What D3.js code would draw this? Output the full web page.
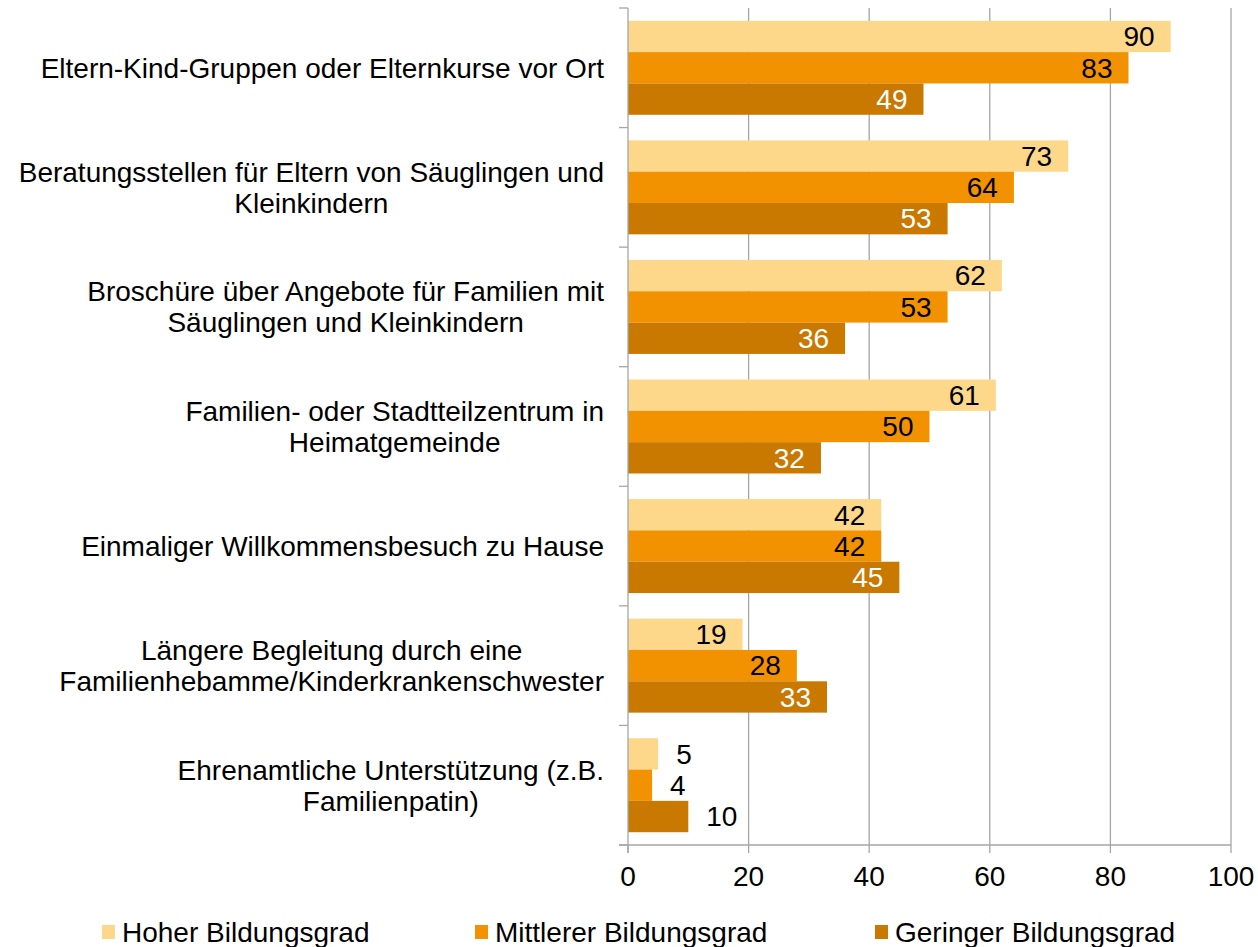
<!DOCTYPE html>
<html>
<head>
<meta charset="utf-8">
<script src="https://cdnjs.cloudflare.com/ajax/libs/d3/7.8.5/d3.min.js"></script>
<style>
  body { margin: 0; background: #fff; }
  svg text { font-family: "Liberation Sans", Arial, sans-serif; }
</style>
</head>
<body>
<div id="chart"></div>
<script>
var categories = [
    ['Eltern-Kind-Gruppen oder Elternkurse vor Ort'],
    ['Beratungsstellen für Eltern von Säuglingen und', 'Kleinkindern'],
    ['Broschüre über Angebote für Familien mit', 'Säuglingen und Kleinkindern'],
    ['Familien- oder Stadtteilzentrum in', 'Heimatgemeinde'],
    ['Einmaliger Willkommensbesuch zu Hause'],
    ['Längere Begleitung durch eine', 'Familienhebamme/Kinderkrankenschwester'],
    ['Ehrenamtliche Unterstützung (z.B.', 'Familienpatin)']
]
var seriesNames = ['Hoher Bildungsgrad', 'Mittlerer Bildungsgrad', 'Geringer Bildungsgrad']
var hoher = [90, 73, 62, 61, 42, 19, 5]
var mittlerer = [83, 64, 53, 50, 42, 28, 4]
var geringer = [49, 53, 36, 32, 45, 33, 10]
var xTicks = [0, 20, 40, 60, 80, 100]

var colors = ['#fdd88b', '#f29200', '#c97800']
var labelColors = ['#000', '#000', '#fff']
var seriesValues = [hoher, mittlerer, geringer]

var width = 1258,
    height = 947,
    fontSize = 28

var svg = d3.select('#chart')
    .append('svg')
    .attr('width', width)
    .attr('height', height)

// scales
var xscale = d3.scaleLinear()
    .domain([0, 100])
    .range([628, 1231])

var yscale = d3.scaleBand()
    .domain(d3.range(categories.length))
    .range([8, 845])
    .paddingInner(0.214)
    .paddingOuter(0.107)

var yinner = d3.scaleBand()
    .domain(d3.range(seriesNames.length))
    .range([0, yscale.bandwidth()])

// gridlines
svg.append('g')
    .selectAll('line')
    .data(xTicks.slice(1))
    .enter()
    .append('line')
    .attr('x1', d => xscale(d))
    .attr('x2', d => xscale(d))
    .attr('y1', 8)
    .attr('y2', 845)
    .attr('stroke', '#a6a6a6')
    .attr('stroke-width', 1.3)

// bars
var groups = svg.append('g')
    .selectAll('g')
    .data(categories)
    .enter()
    .append('g')
    .attr('transform', (d, i) => 'translate(0,' + yscale(i) + ')')

groups.each(function (cat, ci) {
    var g = d3.select(this)
    seriesValues.forEach((vals, si) => {
        var v = vals[ci]
        g.append('rect')
            .attr('x', xscale(0))
            .attr('y', yinner(si))
            .attr('width', xscale(v) - xscale(0))
            .attr('height', yinner.bandwidth())
            .attr('fill', colors[si])
        var inside = v >= 15
        g.append('text')
            .attr('x', inside ? xscale(v) - 16 : xscale(v) + 18)
            .attr('y', yinner(si) + yinner.bandwidth() / 2)
            .attr('dy', '0.35em')
            .attr('text-anchor', inside ? 'end' : 'start')
            .attr('font-size', fontSize)
            .attr('fill', inside ? labelColors[si] : '#000')
            .text(v)
    })
})

// y axis
var yaxis = svg.append('g')
yaxis.append('line')
    .attr('x1', xscale(0)).attr('x2', xscale(0))
    .attr('y1', 8).attr('y2', 853)
    .attr('stroke', '#a6a6a6')
    .attr('stroke-width', 1.3)
yaxis.selectAll('.ytick')
    .data(d3.range(categories.length + 1))
    .enter()
    .append('line')
    .attr('x1', xscale(0) - 9).attr('x2', xscale(0))
    .attr('y1', d => 8 + d * yscale.step())
    .attr('y2', d => 8 + d * yscale.step())
    .attr('stroke', '#a6a6a6')
    .attr('stroke-width', 1.3)

// category labels, centred lines in a right-aligned block
var lineHeight = 31
categories.forEach((lines, i) => {
    var cy = yscale(i) + yscale.bandwidth() / 2
    var t = svg.append('text')
        .attr('font-size', fontSize)
        .attr('fill', '#000')
    lines.forEach((ln, li) => {
        t.append('tspan')
            .attr('y', cy + (li - (lines.length - 1) / 2) * lineHeight)
            .attr('dy', '0.35em')
            .text(ln)
    })
    var maxW = 0
    t.selectAll('tspan').each(function () {
        maxW = Math.max(maxW, this.getComputedTextLength())
    })
    t.attr('text-anchor', 'middle')
    t.selectAll('tspan').attr('x', 604 - maxW / 2)
})

// x axis
var xaxis = svg.append('g')
xaxis.append('line')
    .attr('x1', xscale(0) - 9).attr('x2', xscale(100))
    .attr('y1', 845).attr('y2', 845)
    .attr('stroke', '#a6a6a6')
    .attr('stroke-width', 1.3)
xaxis.selectAll('.xtick')
    .data(xTicks)
    .enter()
    .append('line')
    .attr('x1', d => xscale(d)).attr('x2', d => xscale(d))
    .attr('y1', 845).attr('y2', 853)
    .attr('stroke', '#a6a6a6')
    .attr('stroke-width', 1.3)
xaxis.selectAll('text')
    .data(xTicks)
    .enter()
    .append('text')
    .attr('x', d => xscale(d))
    .attr('y', 876)
    .attr('dy', '0.35em')
    .attr('text-anchor', 'middle')
    .attr('font-size', fontSize)
    .attr('fill', '#000')
    .text(d => d)

// legend
var legendX = [102, 475, 875]
var legend = svg.append('g')
    .selectAll('g')
    .data(seriesNames)
    .enter()
    .append('g')
    .attr('transform', (d, i) => 'translate(' + legendX[i] + ',932)')
legend.append('rect')
    .attr('x', 0).attr('y', -7)
    .attr('width', 13).attr('height', 14)
    .attr('fill', (d, i) => colors[i])
legend.append('text')
    .attr('x', 20)
    .attr('dy', '0.35em')
    .attr('font-size', fontSize)
    .attr('fill', '#000')
    .text(d => d)
</script>
</body>
</html>
